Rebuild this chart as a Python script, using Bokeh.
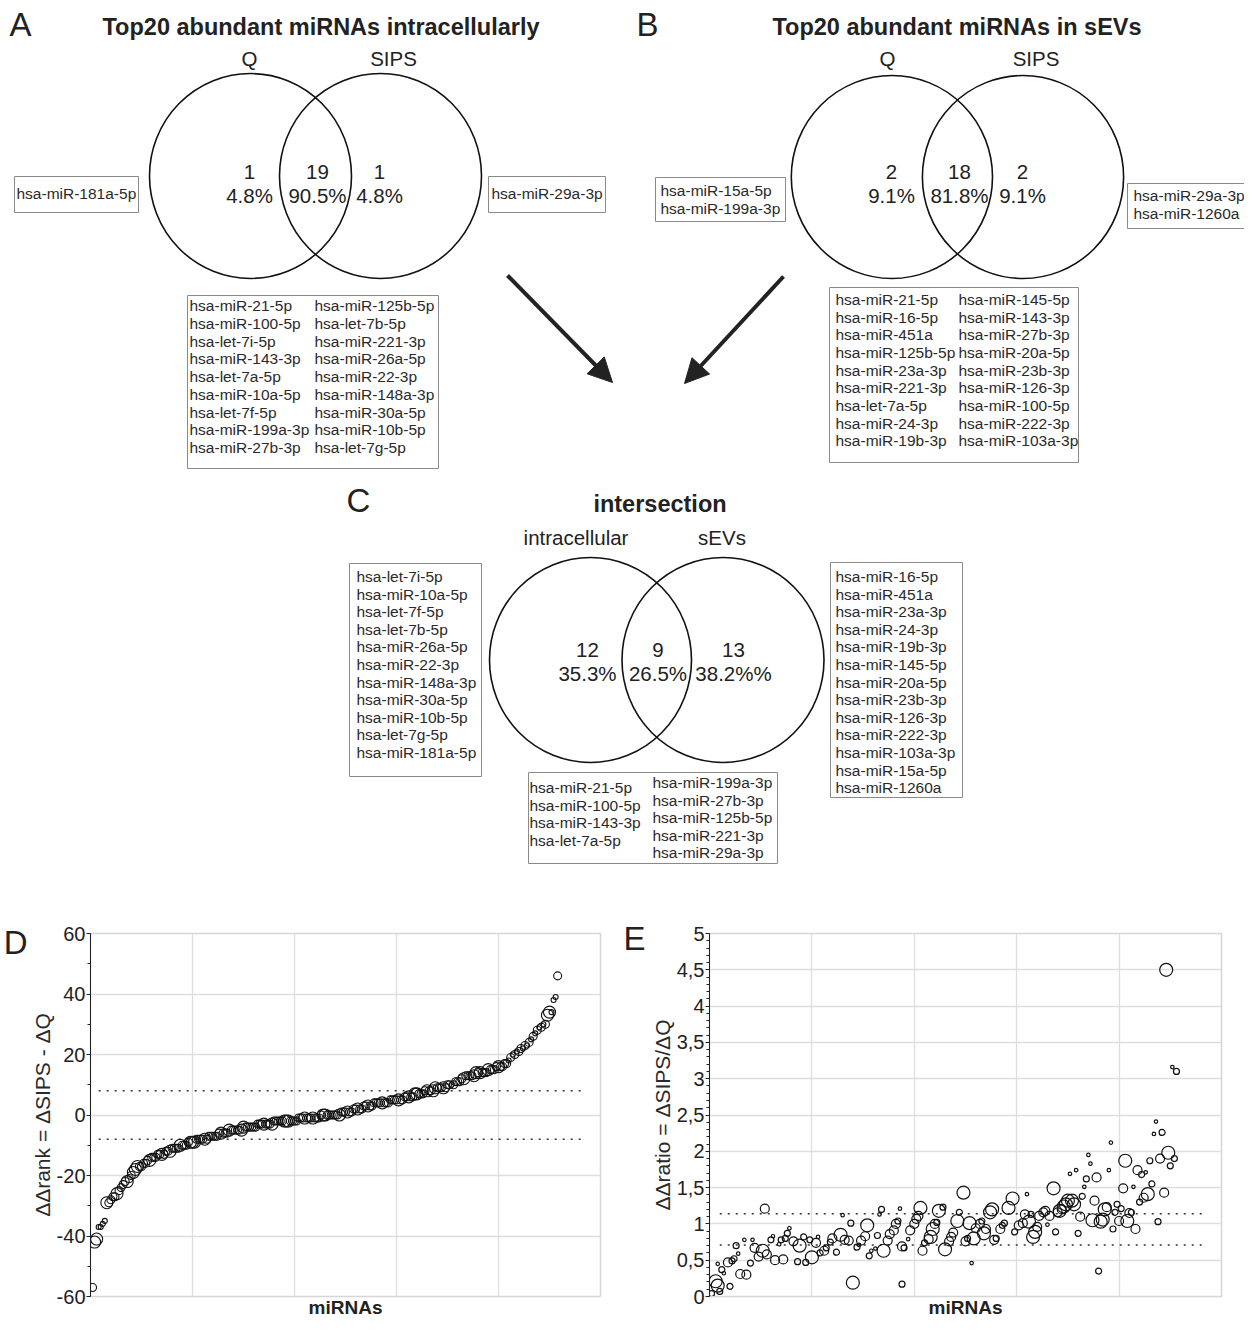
from bokeh.plotting import figure
from bokeh.models import Range1d, FixedTicker, LinearAxis, Arrow, NormalHead, ColumnDataSource
from bokeh.layouts import column, row
from bokeh.embed import file_html
from bokeh.resources import INLINE
from bokeh.core.properties import value

FONT = "Liberation Sans"
INK = "#222222"
BOXC = "#8a8a8a"

# ---------------- data: Venn panels ----------------
a_title = "Top20 abundant miRNAs intracellularly"
a_sets = ["Q", "SIPS"]
a_counts = ["1", "19", "1"]
a_pcts = ["4.8%", "90.5%", "4.8%"]
a_only_left = ["hsa-miR-181a-5p"]
a_only_right = ["hsa-miR-29a-3p"]
a_shared_1 = ["hsa-miR-21-5p", "hsa-miR-100-5p", "hsa-let-7i-5p", "hsa-miR-143-3p", "hsa-let-7a-5p",
              "hsa-miR-10a-5p", "hsa-let-7f-5p", "hsa-miR-199a-3p", "hsa-miR-27b-3p"]
a_shared_2 = ["hsa-miR-125b-5p", "hsa-let-7b-5p", "hsa-miR-221-3p", "hsa-miR-26a-5p", "hsa-miR-22-3p",
              "hsa-miR-148a-3p", "hsa-miR-30a-5p", "hsa-miR-10b-5p", "hsa-let-7g-5p"]

b_title = "Top20 abundant miRNAs in sEVs"
b_sets = ["Q", "SIPS"]
b_counts = ["2", "18", "2"]
b_pcts = ["9.1%", "81.8%", "9.1%"]
b_only_left = ["hsa-miR-15a-5p", "hsa-miR-199a-3p"]
b_only_right = ["hsa-miR-29a-3p", "hsa-miR-1260a"]
b_shared_1 = ["hsa-miR-21-5p", "hsa-miR-16-5p", "hsa-miR-451a", "hsa-miR-125b-5p", "hsa-miR-23a-3p",
              "hsa-miR-221-3p", "hsa-let-7a-5p", "hsa-miR-24-3p", "hsa-miR-19b-3p"]
b_shared_2 = ["hsa-miR-145-5p", "hsa-miR-143-3p", "hsa-miR-27b-3p", "hsa-miR-20a-5p", "hsa-miR-23b-3p",
              "hsa-miR-126-3p", "hsa-miR-100-5p", "hsa-miR-222-3p", "hsa-miR-103a-3p"]

c_title = "intersection"
c_sets = ["intracellular", "sEVs"]
c_counts = ["12", "9", "13"]
c_pcts = ["35.3%", "26.5%", "38.2%%"]
c_only_left = ["hsa-let-7i-5p", "hsa-miR-10a-5p", "hsa-let-7f-5p", "hsa-let-7b-5p", "hsa-miR-26a-5p",
               "hsa-miR-22-3p", "hsa-miR-148a-3p", "hsa-miR-30a-5p", "hsa-miR-10b-5p", "hsa-let-7g-5p",
               "hsa-miR-181a-5p"]
c_only_right = ["hsa-miR-16-5p", "hsa-miR-451a", "hsa-miR-23a-3p", "hsa-miR-24-3p", "hsa-miR-19b-3p",
                "hsa-miR-145-5p", "hsa-miR-20a-5p", "hsa-miR-23b-3p", "hsa-miR-126-3p", "hsa-miR-222-3p",
                "hsa-miR-103a-3p", "hsa-miR-15a-5p", "hsa-miR-1260a"]
c_shared_1 = ["hsa-miR-21-5p", "hsa-miR-100-5p", "hsa-miR-143-3p", "hsa-let-7a-5p"]
c_shared_2 = ["hsa-miR-199a-3p", "hsa-miR-27b-3p", "hsa-miR-125b-5p", "hsa-miR-221-3p", "hsa-miR-29a-3p"]

# ---------------- data: panel D (sorted delta-delta rank) ----------------
d_rank = [-57, -42, -41, -37, -37, -36, -35,
          -29, -29, -28, -27, -27, -26, -25,
          -24, -23, -22, -22, -21, -20, -19,
          -18, -17, -17, -17, -16, -16,
          -15, -15, -14, -14, -14, -13, -13, -13, -13, -12,
          -12, -12, -11, -11, -11, -11, -10, -10, -10, -10, -9, -9, -9,
          -9, -8, -8, -8, -8, -8, -8, -7, -7, -7, -7, -7, -6,
          -6, -6, -6, -6, -5, -5, -5, -5, -5, -5, -5, -4, -4,
          -4, -4, -4, -4, -4, -3, -3, -3, -3, -3, -3, -3, -3, -2, -2,
          -2, -2, -2, -2, -2, -2, -2, -2, -2, -2, -1, -1, -1, -1, -1, -1, -1, -1,
          -1, -1, -1, 0, 0, 0, 0, 0, 0, 0, 0, 0, 0, 1, 1, 1, 1,
          1, 1, 2, 2, 2, 2, 2, 3, 3, 3, 3, 3, 4, 4, 4,
          4, 4, 4, 4, 4, 5, 5, 5, 5, 5, 5, 5,
          6, 6, 6, 6, 6, 7, 7, 7, 7, 7, 8, 8, 8,
          8, 8, 9, 9, 9, 9, 9, 9, 10, 10, 10, 10, 11, 11, 11,
          12, 12, 13, 13, 13, 13, 13, 14, 14, 14, 14, 14, 14, 15, 15,
          15, 15, 16, 16, 16, 16, 17, 17, 18, 19,
          20, 20, 21, 21, 22, 22, 23, 23, 24, 25,
          26, 27, 28, 29, 29, 30, 30,
          33, 34, 34, 38, 39, 46]
d_abund = [int(c) for c in (
    "2331111322" "2232222322" "3332222232" "2222322232" "2223222233"
    "3222232222" "2223222322" "2223322222" "2222322232" "2222333222"
    "2222322232" "2223322222" "2322232222" "3222232222" "2232222222"
    "3222232233" "2222322332" "2232221222" "2232222332" "3222322223"
    "2222121212" "2121212121" "212331112")]
d_thresholds = [8, -8]

# ---------------- data: panel E (delta-delta ratio) ----------------
e_rank = [1, 3, 4, 4, 5, 6, 7, 9, 10, 11, 12, 13, 14, 15, 17, 18, 20, 21, 22, 24,
          26, 27, 28, 30, 31, 32, 34, 35, 36, 37, 38, 39, 41, 43, 44, 46, 47, 49, 50, 52,
          53, 54, 56, 57, 59, 60, 62, 64, 65, 66, 68, 69, 70, 72, 73, 74, 76, 77, 78, 79,
          81, 82, 83, 84, 85,
          87, 88, 90, 91, 92, 93, 94, 94, 95, 97, 98, 100, 101, 102, 103, 104, 105, 107, 108, 109,
          110, 111, 112, 114, 115, 117, 118, 119, 121, 122, 124, 125, 126, 127, 128, 129, 130, 132, 133, 134,
          135, 137, 138, 139, 140, 142, 143, 144, 146, 148, 149, 151, 153, 154, 155, 156, 157, 158, 159, 160,
          161, 163, 164, 165, 166, 168, 169, 170,
          171, 172, 173, 174, 175, 176, 177, 178, 179, 180, 181, 182, 183, 184, 185, 186, 187, 188, 189, 190,
          191, 192, 193, 194, 195, 196, 197, 198, 199, 200, 201, 202, 203, 204, 205, 206, 207, 208, 209, 210,
          211, 212, 213, 214, 215, 216, 217, 218, 219, 220, 221, 222, 223, 224, 225, 226, 227, 228]
e_ratio = [0.04, 0.21, 0.15, 0.45, 0.07, 0.37, 0.32, 0.47, 0.14, 0.49, 0.52, 0.70, 0.59, 0.31, 0.78, 0.30, 0.46, 0.78, 0.67, 0.55,
           0.63, 1.21, 0.58, 0.78, 0.83, 0.50, 0.72, 0.78, 0.51, 0.80, 0.87, 0.94, 0.76, 0.48, 0.70, 0.82, 0.47, 0.78, 0.54, 0.74,
           0.82, 0.60, 0.63, 0.67, 0.75, 0.80, 0.61, 0.85, 1.12, 0.78, 0.77, 1.01, 0.19, 0.68, 0.71, 0.77, 0.83, 0.98, 0.56, 0.63,
           0.66, 0.84, 1.13, 1.20, 0.63,
           0.77, 0.86, 0.91, 1.00, 1.04, 1.21, 0.69, 0.17, 0.67, 0.79, 0.91, 1.00, 1.07, 1.11, 1.22, 0.63, 0.74, 0.79, 0.82, 0.93,
           1.00, 1.02, 1.18, 1.23, 0.65, 0.76, 0.82, 0.88, 1.04, 1.16, 1.43, 0.76, 0.80, 1.01, 0.46, 0.80, 0.94, 1.00, 1.04, 0.87,
           0.93, 1.16, 1.20, 0.78, 0.80, 0.93, 0.98, 1.01, 1.22, 1.35, 0.89, 0.98, 1.01, 1.13, 1.41, 1.03, 1.13, 0.82, 0.89, 0.96,
           1.11, 1.16, 1.18, 0.99, 1.11, 1.49, 0.89, 1.16,
           1.18, 1.20, 1.24, 1.27, 1.32, 1.69, 1.32, 1.27, 1.74, 0.87, 1.10, 1.38, 1.51, 1.62, 1.95, 1.83, 1.05, 1.32, 1.64, 0.35,
           1.03, 1.06, 1.20, 1.23, 1.74, 2.12, 0.93, 1.16, 1.27, 1.04, 1.21, 1.49, 1.87, 1.04, 1.15, 1.16, 1.51, 0.93, 1.74, 1.30,
           1.68, 1.36, 1.71, 1.41, 1.87, 1.55, 2.24, 2.41, 1.03, 1.90, 2.26, 1.43, 4.50, 1.98, 1.80, 3.16, 1.90, 3.10]
e_abund = [2, 4, 4, 1, 2, 2, 1, 3, 2, 2, 2, 2, 1, 3, 1, 3, 2, 1, 3, 3,
           4, 3, 3, 2, 1, 3, 1, 2, 3, 2, 2, 1, 3, 2, 4, 2, 2, 2, 4, 3,
           1, 2, 3, 2, 2, 3, 2, 4, 1, 3, 3, 2, 4, 2, 1, 3, 3, 4, 2, 1,
           1, 2, 1, 2, 4,
           3, 3, 3, 3, 2, 1, 3, 2, 2, 1, 3, 3, 3, 3, 4, 3, 2, 3, 4, 4,
           3, 2, 4, 2, 4, 3, 3, 3, 4, 2, 4, 3, 2, 4, 1, 4, 3, 3, 2, 4,
           3, 4, 4, 3, 2, 3, 2, 2, 4, 4, 2, 3, 3, 3, 1, 4, 2, 4, 4, 3,
           3, 3, 3, 1, 3, 4, 2, 3,
           4, 3, 4, 4, 4, 1, 4, 4, 1, 2, 3, 2, 1, 2, 1, 1, 4, 3, 3, 2,
           4, 4, 4, 3, 1, 1, 2, 2, 2, 3, 2, 3, 4, 4, 3, 2, 1, 3, 3, 2,
           2, 3, 1, 4, 2, 2, 1, 1, 2, 3, 2, 3, 4, 4, 2, 1, 2, 2]
e_thresholds = [1.14, 0.71]

# ---------------- top figure: Venn diagrams (pixel-like coordinates) ----------------
TOTAL_W, TOTAL_H = 1244, 1320
TOP_H = 890
top = figure(width=TOTAL_W, height=TOP_H, x_range=Range1d(0, TOTAL_W), y_range=Range1d(TOP_H, 0),
             x_axis_type=None, y_axis_type=None, toolbar_location=None, output_backend="svg",
             min_border=0, outline_line_color=None)
top.grid.visible = False


def txt(p, xs, ys, strs, size, align="left", bold=False, color=INK):
    p.text(x=xs, y=ys, text=strs, text_font=value(FONT), text_font_size=value(size),
           text_align=align, text_baseline="middle", text_color=color,
           text_font_style="bold" if bold else "normal")


def box(p, l, r, t, b):
    p.quad(left=[l], right=[r], top=[t], bottom=[b], fill_color=None, line_color=BOXC, line_width=1)


def lst(p, x, y0, dy, items):
    txt(p, [x] * len(items), [y0 + i * dy for i in range(len(items))], items, "15.5px", color="#2a2a2a")


def venn(p, letter, lx, ly, title, tx, ty, sets, sxs, sy, cxs, cy, rx, ry, counts, pcts, nxs, ny):
    txt(p, [lx], [ly], [letter], "33px")
    txt(p, [tx], [ty], [title], "23.5px", align="center", bold=True)
    txt(p, sxs, [sy, sy], sets, "20.5px", align="center")
    p.ellipse(x=cxs, y=[cy, cy], width=2 * rx, height=2 * ry, fill_color=None, line_color="#111111",
              line_width=1.6)
    txt(p, nxs, [ny] * 3, counts, "20.5px", align="center")
    txt(p, nxs, [ny + 24] * 3, pcts, "20.5px", align="center")


# Panel A
venn(top, "A", 9, 24, a_title, 320.5, 26, a_sets, [249, 393], 58, [250, 380], 175.5, 101, 102.5,
     a_counts, a_pcts, [249, 317, 379], 171)
box(top, 14, 138, 176, 212)
lst(top, 16, 193, 18, a_only_left)
box(top, 488, 605, 176, 212)
lst(top, 491, 193, 18, a_only_right)
box(top, 187, 438, 295, 468)
lst(top, 189, 305, 17.75, a_shared_1)
lst(top, 314, 305, 17.75, a_shared_2)

# Panel B
venn(top, "B", 636, 24, b_title, 956.5, 26, b_sets, [887, 1035.5], 58, [891.4, 1022.5], 176.5, 100.6, 101.5,
     b_counts, b_pcts, [891, 959, 1022], 171)
box(top, 655, 785, 177, 221)
lst(top, 660, 190, 18, b_only_left)
box(top, 1127, 1262, 183, 228)
lst(top, 1133, 195, 18, b_only_right)
box(top, 829, 1078, 287, 462)
lst(top, 835, 299, 17.67, b_shared_1)
lst(top, 958, 299, 17.67, b_shared_2)

# Arrows towards C
for (x0, y0, x1, y1) in [(507, 275, 612, 382), (783, 276, 684, 383)]:
    top.add_layout(Arrow(end=NormalHead(size=24, fill_color=INK, line_color=INK),
                         x_start=x0, y_start=y0, x_end=x1, y_end=y1, line_color=INK, line_width=4))

# Panel C
venn(top, "C", 346, 500, c_title, 659.5, 503, c_sets, [575.5, 721.5], 537, [590, 722.5], 659.5, 101, 102.5,
     c_counts, c_pcts, [587, 657.5, 733], 649)
box(top, 349, 481, 563, 776)
lst(top, 356, 576, 17.6, c_only_left)
box(top, 830, 962, 562, 797)
lst(top, 835, 576, 17.6, c_only_right)
box(top, 528, 777, 772, 863)
lst(top, 529, 787, 17.7, c_shared_1)
lst(top, 652, 782, 17.6, c_shared_2)

# ---------------- scatter panels ----------------
ROW_H = TOTAL_H - TOP_H


def scatter_fig(width, bl, br, bt, bb, yr, yticks, yminor, ylabel, letter, letter_at, letter_standoff,
                overrides):
    p = figure(width=width, height=ROW_H, x_range=Range1d(0, 250), y_range=Range1d(*yr),
               toolbar_location=None, output_backend="svg",
               min_border_left=bl, min_border_right=br, min_border_top=bt, min_border_bottom=bb,
               outline_line_color="#d6d6d6", outline_line_width=1.5)
    p.xaxis.ticker = FixedTicker(ticks=[])
    p.xgrid.ticker = FixedTicker(ticks=[50, 100, 150, 200])
    p.xaxis.axis_label = "miRNAs"
    p.xaxis.axis_label_text_font = FONT
    p.xaxis.axis_label_text_font_style = "bold"
    p.xaxis.axis_label_text_font_size = "19px"
    p.xaxis.axis_label_text_color = INK
    p.xaxis.axis_label_standoff = 0
    p.xaxis.major_label_standoff = 0
    p.xaxis.major_tick_out = 0
    p.xaxis.major_tick_in = 0
    p.xaxis.minor_tick_out = 0
    p.xaxis.axis_line_color = "#d6d6d6"
    p.yaxis.ticker = FixedTicker(ticks=yticks, minor_ticks=yminor)
    p.yaxis.axis_label = ylabel
    p.yaxis.axis_label_text_font = FONT
    p.yaxis.axis_label_text_font_style = "normal"
    p.yaxis.axis_label_text_font_size = "21px"
    p.yaxis.axis_label_text_color = "#2a2a2a"
    p.yaxis.axis_label_standoff = 0
    p.yaxis.major_label_text_font = FONT
    p.yaxis.major_label_text_font_size = "20px"
    p.yaxis.major_label_text_color = INK
    p.yaxis.major_label_standoff = 1
    p.yaxis.major_tick_out = 4
    p.yaxis.major_tick_in = 0
    p.yaxis.minor_tick_out = 3
    p.yaxis.minor_tick_in = 0
    p.yaxis.axis_line_color = INK
    p.yaxis.major_tick_line_color = INK
    p.yaxis.minor_tick_line_color = INK
    p.yaxis.major_label_overrides = overrides
    p.grid.grid_line_color = "#dedede"
    p.grid.grid_line_width = 1.3
    # panel letter, drawn as the only label of an outer axis
    lab = LinearAxis(ticker=FixedTicker(ticks=[letter_at], minor_ticks=[]),
                     major_label_overrides={letter_at: letter},
                     axis_line_color=None, major_tick_line_color=None, minor_tick_line_color=None,
                     major_tick_out=0, major_tick_in=0, minor_tick_out=0, minor_tick_in=0,
                     major_label_text_font=FONT, major_label_text_font_size="33px",
                     major_label_text_color=INK, major_label_standoff=letter_standoff)
    p.add_layout(lab, "left")
    return p


# Panel D
d_ticks = list(range(-60, 61, 20))
d_labels = {t: str(t) for t in d_ticks}
pd = scatter_fig(620, 90, 20, 39, 18, (-60, 60), d_ticks, list(range(-60, 61, 10)),
                 "ΔΔrank = ΔSIPS - ΔQ", "D", 57, 0, d_labels)
d_src = ColumnDataSource(dict(x=[i + 1 for i in range(len(d_rank))], y=d_rank,
                              s=[{1: 5, 2: 8, 3: 12}[a] for a in d_abund]))
for t in d_thresholds:
    pd.segment(x0=4, x1=241, y0=t, y1=t, line_color="#333333", line_width=1.6, line_dash="2 6")
pd.scatter(x="x", y="y", size="s", source=d_src, marker="circle", fill_color=None,
           line_color="#111111", line_width=1.1)

# Panel E
e_ticks = [i * 0.5 for i in range(11)]
e_labels = {t: (str(int(t)) if t == int(t) else str(t).replace(".", ",")) for t in e_ticks}
pe = scatter_fig(TOTAL_W - 620, 89, 23, 43, 18, (0, 5), e_ticks, [i * 0.1 for i in range(51)],
                 "ΔΔratio = ΔSIPS/ΔQ", "E", 4.93, 2, e_labels)
e_src = ColumnDataSource(dict(x=e_rank, y=e_ratio, s=[{1: 3.5, 2: 6, 3: 9, 4: 13}[a] for a in e_abund]))
for t in e_thresholds:
    pe.segment(x0=5, x1=242, y0=t, y1=t, line_color="#333333", line_width=1.6, line_dash="2 6")
pe.scatter(x="x", y="y", size="s", source=e_src, marker="circle", fill_color=None,
           line_color="#111111", line_width=1.2)

layout = column(top, row(pd, pe))
open("out.html", "w").write(file_html(layout, INLINE))
